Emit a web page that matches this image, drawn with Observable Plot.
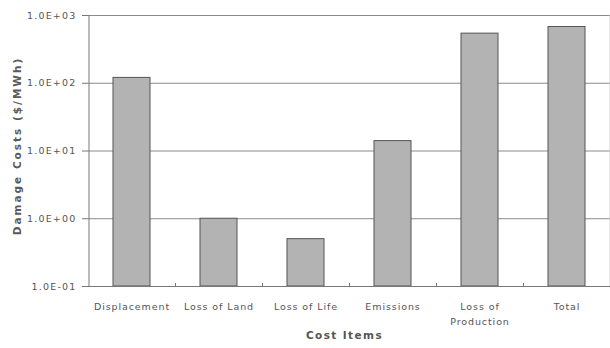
<!DOCTYPE html>
<html>
<head>
<meta charset="utf-8">
<script src="https://cdn.jsdelivr.net/npm/d3@7"></script>
<script src="https://cdn.jsdelivr.net/npm/@observablehq/plot@0.6"></script>
<style>
  html, body { margin: 0; padding: 0; background: #fff; }
  #chart { width: 610px; height: 348px; }
  svg { font-family: "DejaVu Sans", sans-serif; }
  .yticks text { letter-spacing: 1.2px; }
  .xticks text { letter-spacing: 0.9px; }
  .ytitle text { letter-spacing: 2px; }
  .xtitle text { letter-spacing: 1.4px; }
</style>
</head>
<body>
<div id="chart"></div>
<script>
// Damage costs per cost item, $/MWh (log scale)
const items = ["Displacement", "Loss of Land", "Loss of Life", "Emissions", "Loss of Production", "Total"];
const itemLabels = ["Displacement", "Loss of Land", "Loss of Life", "Emissions", "Loss of\nProduction", "Total"];
const costs = [120, 1.0, 0.5, 14, 540, 676];
const yTicks = [0.1, 1, 10, 100, 1000];

const data = items.map((item, i) => ({item, value: costs[i]}));
const labelOf = new Map(items.map((d, i) => [d, itemLabels[i]]));

// Excel-style scientific label, e.g. 1.0E+03
const sci = d => {
  const e = Math.round(Math.log10(d));
  const m = d / Math.pow(10, e);
  return m.toFixed(1) + "E" + (e < 0 ? "-" : "+") + String(Math.abs(e)).padStart(2, "0");
};

const W = 610, H = 348, mL = 88, mR = 0, mT = 15, mB = 62;
const step = (W - mL - mR) / items.length;
const yMin = yTicks[0], yMax = yTicks[yTicks.length - 1];

const chart = Plot.plot({
  width: W,
  height: H,
  marginLeft: mL,
  marginRight: mR,
  marginTop: mT,
  marginBottom: mB,
  style: {background: "#fff", color: "#555", fontSize: "9px"},
  x: {domain: items, paddingInner: 0.575, paddingOuter: 0.2875, label: null},
  y: {type: "log", domain: [yMin, yMax], label: null},
  marks: [
    Plot.gridY(yTicks, {stroke: "#8a8a8a", strokeOpacity: 1, strokeWidth: 1}),
    Plot.barY(data, {x: "item", y1: yMin, y2: "value", fill: "#b3b3b3", stroke: "#555", strokeWidth: 1}),
    // frame lines: left and right edges of the first and last category bands
    Plot.ruleX([items[0]], {dx: -step / 2 + 0.5, y1: yMin, y2: yMax, stroke: "#777"}),
    Plot.ruleX([items[items.length - 1]], {dx: step / 2 - 0.5, y1: yMin, y2: yMax, stroke: "#ccc"}),
    Plot.ruleY([yMin], {stroke: "#777"}),
    // small category divider ticks along the bottom
    Plot.ruleX(items.slice(0, -1), {dx: step / 2, y1: yMin, y2: yMin, insetTop: -3, stroke: "#777"}),
    Plot.axisY(yTicks, {tickFormat: sci, tickSize: 6, tickPadding: 6, stroke: "#777", fill: "#555", fontSize: 9.5, label: null, className: "yticks"}),
    Plot.axisX({tickFormat: d => labelOf.get(d), tickSize: 0, tickPadding: 12, fill: "#555", fontSize: 9.5, label: null, lineHeight: 1.65, className: "xticks"}),
    Plot.text(["Damage Costs ($/MWh)"], {frameAnchor: "left", textAnchor: "middle", dx: -71, dy: -5, rotate: -90, fontSize: 10.5, fontWeight: "bold", fill: "#5a5a5a", className: "ytitle"}),
    Plot.text(["Cost Items"], {frameAnchor: "bottom", dx: -5, dy: 52, fontSize: 10.5, fontWeight: "bold", fill: "#555", className: "xtitle"})
  ]
});

document.getElementById("chart").append(chart);
</script>
</body>
</html>
